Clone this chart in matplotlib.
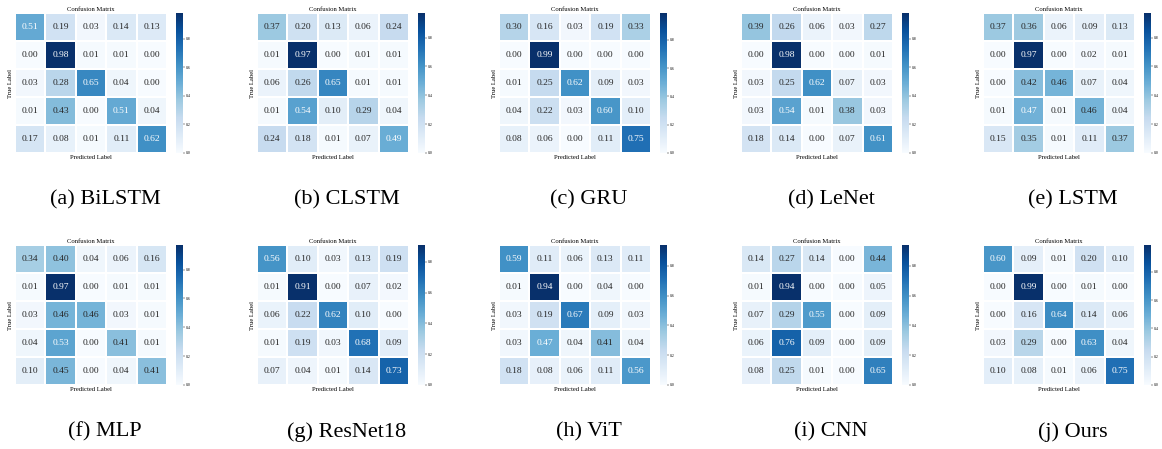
import numpy as np
import matplotlib
matplotlib.use("Agg")
import matplotlib.pyplot as plt
import seaborn as sns

plt.rcParams['font.family'] = ['Liberation Serif', 'DejaVu Serif']

# matrices (rows = true, cols = predicted)
bilstm = [[0.51, 0.19, 0.03, 0.14, 0.13],
          [0.00, 0.98, 0.01, 0.01, 0.00],
          [0.03, 0.28, 0.65, 0.04, 0.00],
          [0.01, 0.43, 0.00, 0.51, 0.04],
          [0.17, 0.08, 0.01, 0.11, 0.62]]
clstm = [[0.37, 0.20, 0.13, 0.06, 0.24],
         [0.01, 0.97, 0.00, 0.01, 0.01],
         [0.06, 0.26, 0.65, 0.01, 0.01],
         [0.01, 0.54, 0.10, 0.29, 0.04],
         [0.24, 0.18, 0.01, 0.07, 0.49]]
gru = [[0.30, 0.16, 0.03, 0.19, 0.33],
       [0.00, 0.99, 0.00, 0.00, 0.00],
       [0.01, 0.25, 0.62, 0.09, 0.03],
       [0.04, 0.22, 0.03, 0.60, 0.10],
       [0.08, 0.06, 0.00, 0.11, 0.75]]
lenet = [[0.39, 0.26, 0.06, 0.03, 0.27],
         [0.00, 0.98, 0.00, 0.00, 0.01],
         [0.03, 0.25, 0.62, 0.07, 0.03],
         [0.03, 0.54, 0.01, 0.38, 0.03],
         [0.18, 0.14, 0.00, 0.07, 0.61]]
lstm = [[0.37, 0.36, 0.06, 0.09, 0.13],
        [0.00, 0.97, 0.00, 0.02, 0.01],
        [0.00, 0.42, 0.46, 0.07, 0.04],
        [0.01, 0.47, 0.01, 0.46, 0.04],
        [0.15, 0.35, 0.01, 0.11, 0.37]]
mlp = [[0.34, 0.40, 0.04, 0.06, 0.16],
       [0.01, 0.97, 0.00, 0.01, 0.01],
       [0.03, 0.46, 0.46, 0.03, 0.01],
       [0.04, 0.53, 0.00, 0.41, 0.01],
       [0.10, 0.45, 0.00, 0.04, 0.41]]
resnet18 = [[0.56, 0.10, 0.03, 0.13, 0.19],
            [0.01, 0.91, 0.00, 0.07, 0.02],
            [0.06, 0.22, 0.62, 0.10, 0.00],
            [0.01, 0.19, 0.03, 0.68, 0.09],
            [0.07, 0.04, 0.01, 0.14, 0.73]]
vit = [[0.59, 0.11, 0.06, 0.13, 0.11],
       [0.01, 0.94, 0.00, 0.04, 0.00],
       [0.03, 0.19, 0.67, 0.09, 0.03],
       [0.03, 0.47, 0.04, 0.41, 0.04],
       [0.18, 0.08, 0.06, 0.11, 0.56]]
cnn = [[0.14, 0.27, 0.14, 0.00, 0.44],
       [0.01, 0.94, 0.00, 0.00, 0.05],
       [0.07, 0.29, 0.55, 0.00, 0.09],
       [0.06, 0.76, 0.09, 0.00, 0.09],
       [0.08, 0.25, 0.01, 0.00, 0.65]]
ours = [[0.60, 0.09, 0.01, 0.20, 0.10],
        [0.00, 0.99, 0.00, 0.01, 0.00],
        [0.00, 0.16, 0.64, 0.14, 0.06],
        [0.03, 0.29, 0.00, 0.63, 0.04],
        [0.10, 0.08, 0.01, 0.06, 0.75]]

matrices = [bilstm, clstm, gru, lenet, lstm, mlp, resnet18, vit, cnn, ours]
captions = ['(a) BiLSTM', '(b) CLSTM', '(c) GRU', '(d) LeNet', '(e) LSTM',
            '(f) MLP', '(g) ResNet18', '(h) ViT', '(i) CNN', '(j) Ours']

W, H = 1162, 449
fig = plt.figure(figsize=(W / 100, H / 100), dpi=100)

def px_axes(x, y_top, w, h):
    return fig.add_axes([x / W, 1 - (y_top + h) / H, w / W, h / H])

row_top = [13, 245]
cap_y = [200, 432]

for k, (cm, cap) in enumerate(zip(matrices, captions)):
    r, c = divmod(k, 5)
    x0 = 15 + 242 * c
    ax = px_axes(x0, row_top[r], 152, 140)
    cax = px_axes(x0 + 161, row_top[r], 7, 140)
    sns.heatmap(np.array(cm), ax=ax, cbar_ax=cax, cmap='Blues', annot=True, fmt='.2f',
                annot_kws={'size': 6.8}, linewidths=0.15, linecolor='white',
                xticklabels=False, yticklabels=False, square=False)
    ax.set_title('Confusion Matrix', fontsize=4.8, pad=1.5)
    ax.set_xlabel('Predicted Label', fontsize=4.8, labelpad=1.5)
    ax.set_ylabel('True Label', fontsize=4.8, labelpad=1.5)
    cax.tick_params(labelsize=2.8, length=1.2, width=0.3, pad=1)
    cax.set_yticks([0.0, 0.2, 0.4, 0.6, 0.8])
    fig.text((x0 + 90) / W, 1 - cap_y[r] / H, cap, fontsize=16,
             ha='center', va='center')

fig.savefig('out.png', dpi=100)
